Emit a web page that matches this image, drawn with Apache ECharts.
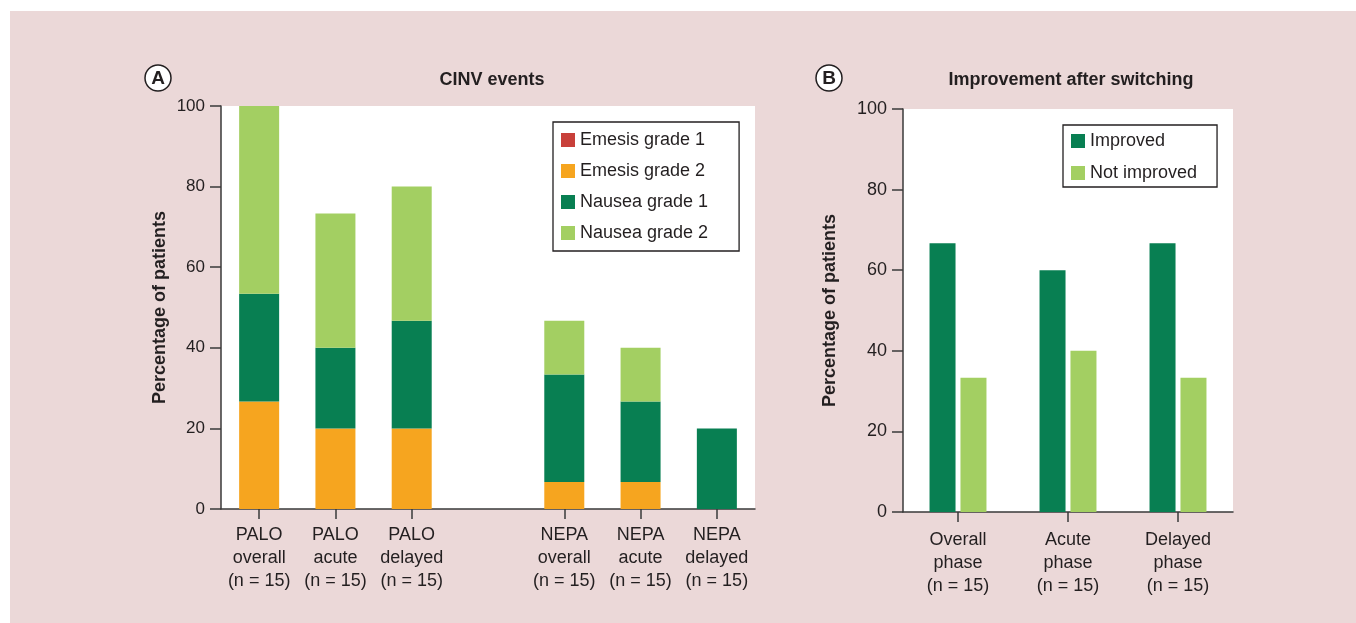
<!DOCTYPE html>
<html>
<head>
<meta charset="utf-8">
<script src="https://cdn.jsdelivr.net/npm/echarts@6/dist/echarts.min.js"></script>
<style>
html,body{margin:0;padding:0;background:#fff;}
#bg{position:absolute;left:10px;top:11px;width:1346px;height:612px;background:#EBD8D8;}
#c{position:absolute;left:0;top:0;width:1356px;height:623px;}
</style>
</head>
<body>
<div id="bg"></div>
<div id="c"></div>
<script>
// Panel A data
const catsA = ['PALO\noverall\n(n = 15)', 'PALO\nacute\n(n = 15)', 'PALO\ndelayed\n(n = 15)', '', 'NEPA\noverall\n(n = 15)', 'NEPA\nacute\n(n = 15)', 'NEPA\ndelayed\n(n = 15)'];
const emesis1 = [0, 0, 0, null, 0, 0, 0];
const emesis2 = [26.7, 20, 20, null, 6.7, 6.7, 0];
const nausea1 = [26.7, 20, 26.7, null, 26.7, 20, 20];
const nausea2 = [46.7, 33.3, 33.3, null, 13.3, 13.3, 0];
// Panel B data
const catsB = ['Overall\nphase\n(n = 15)', 'Acute\nphase\n(n = 15)', 'Delayed\nphase\n(n = 15)'];
const improved = [66.7, 60, 66.7];
const notImproved = [33.3, 40, 33.3];
const yTicks = [0, 20, 40, 60, 80, 100];

const TXT = '#231F20';
const AX = '#3a3a3a';
const FONT = 'Liberation Sans, Arial, Helvetica, sans-serif';
const C_E1 = '#C8403A', C_E2 = '#F6A51F', C_N1 = '#087F52', C_N2 = '#A3CF62';

function yAxis(gi, gap, fs) {
  return {
    type: 'value', gridIndex: gi, min: yTicks[0], max: yTicks[yTicks.length - 1], interval: 20,
    name: 'Percentage of patients', nameLocation: 'middle', nameGap: gap, nameRotate: 90,
    nameTextStyle: {fontFamily: FONT, fontSize: 18, fontWeight: 'bold', color: TXT},
    axisLine: {show: true, lineStyle: {color: AX, width: 1.5}},
    axisTick: {show: true, length: 11, lineStyle: {color: AX, width: 1.5}},
    axisLabel: {fontFamily: FONT, fontSize: fs, color: TXT, margin: 16},
    splitLine: {show: false}
  };
}
function xAxis(gi, data, margin) {
  return {
    type: 'category', gridIndex: gi, data: data,
    axisLine: {show: true, lineStyle: {color: AX, width: 1.5}},
    axisTick: {show: true, alignWithLabel: true, length: 10, lineStyle: {color: AX, width: 1.5},
      interval: function (i, v) { return v !== ''; }},
    axisLabel: {fontFamily: FONT, fontSize: 18, color: TXT, lineHeight: 23, margin: margin, interval: 0}
  };
}

const chart = echarts.init(document.getElementById('c'), null, {renderer: 'canvas'});
chart.setOption({
  backgroundColor: 'transparent',
  animation: false,
  textStyle: {fontFamily: FONT},
  title: [
    {text: 'CINV events', left: 487, top: 66, textAlign: 'center',
      textStyle: {fontFamily: FONT, fontSize: 18, fontWeight: 'bold', color: TXT}},
    {text: 'Improvement after switching', left: 1066, top: 66, textAlign: 'center',
      textStyle: {fontFamily: FONT, fontSize: 18, fontWeight: 'bold', color: TXT}}
  ],
  graphic: [
    {type: 'circle', shape: {cx: 158, cy: 78, r: 13}, style: {fill: '#fff', stroke: TXT, lineWidth: 1.5}},
    {type: 'text', x: 158, y: 79, style: {text: 'A', fontFamily: FONT, fontSize: 19, fontWeight: 'bold', fill: TXT, align: 'center', verticalAlign: 'middle'}},
    {type: 'circle', shape: {cx: 829, cy: 78, r: 13}, style: {fill: '#fff', stroke: TXT, lineWidth: 1.5}},
    {type: 'text', x: 829, y: 79, style: {text: 'B', fontFamily: FONT, fontSize: 19, fontWeight: 'bold', fill: TXT, align: 'center', verticalAlign: 'middle'}}
  ],
  legend: [
    {data: ['Emesis grade 1', 'Emesis grade 2', 'Nausea grade 1', 'Nausea grade 2'],
      left: 553, top: 122, orient: 'vertical', itemWidth: 14, itemHeight: 14, itemGap: 13,
      padding: [9, 31, 9, 8], backgroundColor: '#fff', borderColor: TXT, borderWidth: 1.3,
      icon: 'rect', textStyle: {fontFamily: FONT, fontSize: 18, color: TXT}},
    {data: ['Improved', 'Not improved'],
      left: 1063, top: 125, orient: 'vertical', itemWidth: 14, itemHeight: 14, itemGap: 14,
      padding: [7, 20, 5, 8], backgroundColor: '#fff', borderColor: TXT, borderWidth: 1.3,
      icon: 'rect', textStyle: {fontFamily: FONT, fontSize: 18, color: TXT}}
  ],
  grid: [
    {left: 221, top: 106, width: 534, height: 403, show: true, backgroundColor: '#fff', borderWidth: 0},
    {left: 903, top: 109, width: 330, height: 403, show: true, backgroundColor: '#fff', borderWidth: 0}
  ],
  xAxis: [xAxis(0, catsA, 15), xAxis(1, catsB, 17)],
  yAxis: [yAxis(0, 52, 17), yAxis(1, 64, 18)],
  series: [
    {name: 'Emesis grade 1', type: 'bar', stack: 'a', xAxisIndex: 0, yAxisIndex: 0, barWidth: 40, data: emesis1, itemStyle: {color: C_E1}},
    {name: 'Emesis grade 2', type: 'bar', stack: 'a', xAxisIndex: 0, yAxisIndex: 0, barWidth: 40, data: emesis2, itemStyle: {color: C_E2}},
    {name: 'Nausea grade 1', type: 'bar', stack: 'a', xAxisIndex: 0, yAxisIndex: 0, barWidth: 40, data: nausea1, itemStyle: {color: C_N1}},
    {name: 'Nausea grade 2', type: 'bar', stack: 'a', xAxisIndex: 0, yAxisIndex: 0, barWidth: 40, data: nausea2, itemStyle: {color: C_N2}},
    {name: 'Improved', type: 'bar', xAxisIndex: 1, yAxisIndex: 1, barWidth: 26, barGap: '19%', data: improved, itemStyle: {color: C_N1}},
    {name: 'Not improved', type: 'bar', xAxisIndex: 1, yAxisIndex: 1, barWidth: 26, barGap: '19%', data: notImproved, itemStyle: {color: C_N2}}
  ]
});
</script>
</body>
</html>
